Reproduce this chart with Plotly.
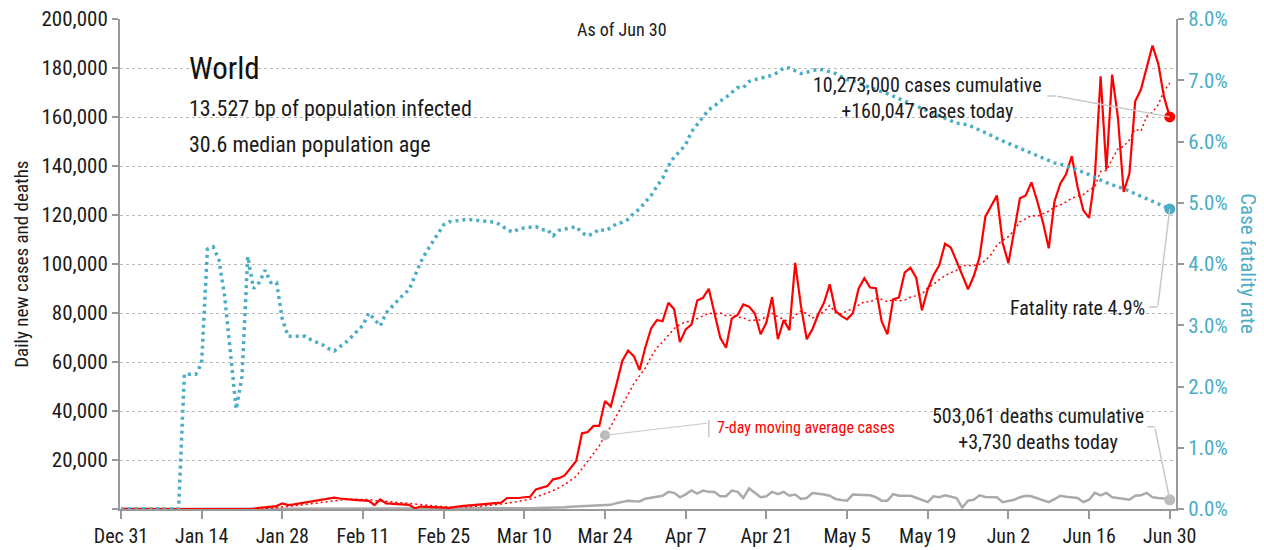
import pandas as pd
import plotly.graph_objects as go

# ---------------- data ----------------
dates = pd.date_range("2019-12-31", "2020-06-30", freq="D")

cases = [
    27, 0, 0, 17, 0, 15, 0, 0, 0, 0, 0, 0, 0, 1, 1, 0, 1, 4, 17,
    136, 19, 151, 140, 97,
    500, 700, 900, 1200, 2300, 1600, 1900, 2300, 2700, 3200,
    3300, 3700, 4200, 4600, 4300, 3900, 3800, 3600, 3500, 3300,
    1600, 3900, 2300, 2200, 2000, 1900, 1700, 300, 1000, 900,
    900, 800,
    600, 500, 1000, 1200, 1400, 1600, 1500, 1800, 1900, 2300, 2600,
    4500, 4400, 4500, 4800, 5000, 8000, 8800, 9400, 12100, 12600, 13700, 16900, 19600,
    30900, 31400, 33900, 33900, 44100, 41800, 51000, 60400, 64700, 62400, 56700, 66000,
    73700, 77100, 76700, 84200, 81500, 68100, 73300, 75300, 85100, 86200, 89900, 80000,
    69900, 65800, 77800, 79200, 83500, 82600, 79800, 71300, 76100, 86500, 69300, 77100, 73000, 100500,
    82900, 69300, 73400, 79500, 84200, 91700, 80800, 78800, 77400, 79900, 89900, 94200, 90400, 90100,
    76700, 71300, 85600, 86300, 96500, 98500, 94400, 81100, 89700, 95400, 99500, 108300, 106700, 101200,
    95100, 89700, 95100, 102900, 119300, 123700, 128000, 108700, 100300, 113500, 126800, 128000, 133300, 125700,
    116900, 106400, 125500, 132800, 136600, 144000, 131400, 121900, 118800, 135500, 176600, 138500, 177300, 160000,
    129400, 136900, 166400, 171200, 180400, 189200, 181800, 168200, 160047,
]

deaths = [
    0, 0, 0, 0, 0, 0, 0, 0, 0, 0, 0, 1, 0, 0, 0, 0, 1, 0, 0, 1,
    3, 6, 9, 8, 16, 15, 24, 26, 26, 38, 43, 46, 46, 57, 64, 66, 72, 73, 86, 89,
    97, 108, 97, 254, 121, 143, 142, 106, 98, 139, 116, 121, 150, 71, 64, 38, 99, 47, 52, 64,
    56, 67, 73, 86, 80, 101, 100, 229, 202, 282, 274, 321, 343, 349, 435, 406,
    600, 700, 900, 1000, 1100, 1300, 1400, 1500, 1700, 1700,
    2400, 2800, 3400, 3200, 3100, 4200, 4600, 5200, 5400, 7000,
    6600, 4800, 6000, 7600, 6300, 7500, 7000, 6900, 5200, 5200,
    7500, 7000, 4500, 8400, 6500, 4800, 5200, 7000, 6100, 7000,
    5400, 5900, 4100, 4500, 6500, 6300, 5900, 5400, 4100, 3700,
    3400, 5900, 5900, 5900, 5600, 4800, 3400, 3400, 6100, 5400,
    5400, 5400, 4600, 3800, 2800, 5200, 4800, 5600, 5000, 4500,
    600, 3400, 3800, 5600, 4900, 4900, 4800, 2800, 3400, 3800,
    4800, 5400, 5200, 4400, 3500, 2800, 4000, 5400, 5000, 4700,
    4500, 2800, 3800, 6600, 5600, 6600, 4800, 4500, 4200, 3800,
    5400, 5600, 6600, 4800, 4500, 4300, 3730,
]

cfr_pct = [
    0, 0, 0, 0, 0, 0, 0, 0, 0, 0, 0,
    2.2, 2.2, 2.2, 2.38, 4.24, 4.28, 4.07, 3.47, 2.6, 1.63,
    2.16, 4.12, 3.6, 3.7, 3.9, 3.7, 3.7, 3.1, 2.82, 2.82,
    2.82, 2.82, 2.76, 2.72, 2.68, 2.62, 2.58, 2.65, 2.72, 2.81,
    2.9, 3.0, 3.2, 3.1, 2.99, 3.2, 3.3, 3.41, 3.5, 3.58,
    3.8, 4.03, 4.2, 4.34, 4.5, 4.64, 4.69, 4.70, 4.72, 4.73,
    4.72, 4.71, 4.70, 4.70, 4.68, 4.63, 4.56, 4.52, 4.57, 4.59,
    4.6, 4.61, 4.56, 4.56, 4.46, 4.55, 4.57, 4.59, 4.61, 4.51,
    4.46, 4.50, 4.57, 4.54, 4.59, 4.66, 4.68, 4.73, 4.83, 4.90,
    5.0, 5.12, 5.27, 5.40, 5.6, 5.75, 5.84, 5.95, 6.16, 6.28,
    6.40, 6.52, 6.58, 6.66, 6.72, 6.80, 6.88, 6.88, 6.98, 7.01,
    7.03, 7.05, 7.08, 7.13, 7.2, 7.2, 7.16, 7.11, 7.13, 7.16,
    7.18, 7.17, 7.14, 7.11, 7.06, 7.01, 6.99, 6.96, 6.92, 6.88,
    6.85, 6.82, 6.78, 6.74, 6.70, 6.66, 6.62, 6.58, 6.54, 6.50,
    6.45, 6.42, 6.38, 6.33, 6.30, 6.29, 6.27, 6.23, 6.19, 6.14,
    6.10, 6.05, 6.01, 5.96, 5.92, 5.88, 5.84, 5.80, 5.76, 5.72,
    5.68, 5.65, 5.63, 5.60, 5.57, 5.54, 5.50, 5.46, 5.41, 5.37,
    5.33, 5.29, 5.26, 5.23, 5.19, 5.15, 5.11, 5.06, 5.02, 4.98, 4.94, 4.90,
]

xtick_vals = pd.date_range("2019-12-31", "2020-06-30", freq="14D")
xtick_text = ["Dec 31", "Jan 14", "Jan 28", "Feb 11", "Feb 25", "Mar 10", "Mar 24",
              "Apr 7", "Apr 21", "May 5", "May 19", "Jun 2", "Jun 16", "Jun 30"]
ytick_vals = [0, 20000, 40000, 60000, 80000, 100000, 120000, 140000, 160000, 180000, 200000]
ytick_text = ["", "20,000", "40,000", "60,000", "80,000", "100,000", "120,000",
              "140,000", "160,000", "180,000", "200,000"]
y2tick_vals = [0, 1, 2, 3, 4, 5, 6, 7, 8]
y2tick_text = ["0.0%", "1.0%", "2.0%", "3.0%", "4.0%", "5.0%", "6.0%", "7.0%", "8.0%"]

# 7-day moving average of the daily cases (the chart's own derived series)
ma7 = pd.Series(cases).rolling(7, min_periods=1).mean().tolist()

FONT = "Roboto Condensed, Liberation Sans Narrow, Roboto, sans-serif"
RED = "#ff0000"
TEAL = "#4bacc6"
GRAY = "#aaaaaa"
AXIS = "#999999"
CONN = "#c8c8c8"
INK = "#1a1a1a"

fig = go.Figure()

fig.add_trace(go.Scatter(x=dates, y=cfr_pct, yaxis="y2", mode="lines",
                         line=dict(color=TEAL, width=3.5, dash="3px,4px"), hoverinfo="skip"))
fig.add_trace(go.Scatter(x=dates, y=deaths, mode="lines",
                         line=dict(color=GRAY, width=2.5), hoverinfo="skip"))
fig.add_trace(go.Scatter(x=dates, y=ma7, mode="lines",
                         line=dict(color=RED, width=1.5, dash="2px,3px"), hoverinfo="skip"))
fig.add_trace(go.Scatter(x=dates, y=cases, mode="lines",
                         line=dict(color=RED, width=2.2), hoverinfo="skip"))

# end markers
fig.add_trace(go.Scatter(x=[dates[-1]], y=[cases[-1]], mode="markers",
                         marker=dict(color=RED, size=11), hoverinfo="skip"))
fig.add_trace(go.Scatter(x=[dates[-1]], y=[cfr_pct[-1]], yaxis="y2", mode="markers",
                         marker=dict(color=TEAL, size=11), hoverinfo="skip"))
fig.add_trace(go.Scatter(x=[dates[-1]], y=[deaths[-1]], mode="markers",
                         marker=dict(color="#bbbbbb", size=11), hoverinfo="skip"))
i_leg = list(dates).index(pd.Timestamp("2020-03-24"))
fig.add_trace(go.Scatter(x=[dates[i_leg]], y=[ma7[i_leg]], mode="markers",
                         marker=dict(color="#bbbbbb", size=10), hoverinfo="skip"))

ann = []
def txt(text, x, y, size=20, color=INK, xanchor="left", align="left"):
    ann.append(dict(text=text, x=x, y=y, xref="paper", yref="paper", showarrow=False,
                    xanchor=xanchor, yanchor="middle", align=align,
                    font=dict(family=FONT, size=size, color=color)))

txt("As of Jun 30", 0.475, 0.978, size=18, xanchor="center")
txt("World", 0.063, 0.899, size=31, color="#111111")
txt("13.527 bp of population infected", 0.063, 0.818, size=22)
txt("30.6 median population age", 0.063, 0.743, size=22)
txt("10,273,000 cases cumulative<br>+160,047 cases today", 0.765, 0.839, xanchor="center", align="center")
txt("Fatality rate 4.9%", 0.9725, 0.41, xanchor="right", align="right")
txt("503,061 deaths cumulative<br>+3,730 deaths today", 0.869, 0.163, xanchor="center", align="center")
txt("7-day moving average cases", 0.5634, 0.167, size=16, color=RED)
txt("Daily new cases and deaths", -0.094, 0.5, size=19)
ann[-1]["textangle"] = -90
ann[-1]["xanchor"] = "center"
ann.append(dict(text="Case fatality rate", x=1.068, y=0.5, xref="paper", yref="paper",
                showarrow=False, textangle=90, xanchor="center", yanchor="middle",
                font=dict(family=FONT, size=21, color=TEAL)))

def conn(x, y, ax, ay, yref="y", xshift=0, yshift=0):
    ann.append(dict(text="", x=x, y=y, xref="x", yref=yref, ax=ax, ay=ay,
                    showarrow=True, arrowhead=0, arrowwidth=1.5, arrowcolor=CONN,
                    standoff=0, startstandoff=0, xshift=xshift, yshift=yshift))

# cases connector (elbow)
conn(dates[-1], cases[-1], -114, -21)
conn(dates[-1], cases[-1], -10, 0, xshift=-114, yshift=21)
# fatality connector
conn(dates[-1], cfr_pct[-1], -12, 98, yref="y2")
conn(dates[-1], cfr_pct[-1], -10, 0, yref="y2", xshift=-12, yshift=-98)
# deaths connector
conn(dates[-1], deaths[-1], -15, -73)
conn(dates[-1], deaths[-1], -9, 0, xshift=-15, yshift=73)
# legend connector for the moving average: from the dot to the label bar
leg_x = "2020-04-11"
ann.append(dict(text="", x=dates[i_leg], y=ma7[i_leg], xref="x", yref="y",
                axref="x", ayref="y", ax=leg_x, ay=35100,
                showarrow=True, arrowhead=0, arrowwidth=1, arrowcolor=CONN,
                standoff=0, startstandoff=0))

shapes = [dict(type="line", xref="x", yref="y", x0=leg_x, x1=leg_x, y0=29400, y1=36300,
               line=dict(color=CONN, width=1.5))]

fig.update_layout(
    width=1264, height=550,
    margin=dict(l=112, r=96, t=11, b=49),
    paper_bgcolor="white", plot_bgcolor="white",
    showlegend=False,
    font=dict(family=FONT, size=18, color=INK),
    annotations=ann,
    shapes=shapes,
    xaxis=dict(
        type="date", range=["2019-12-30 20:00", "2020-07-01 02:00"],
        tickvals=xtick_vals, ticktext=xtick_text, automargin=False,
        ticklabeloverflow="allow",
        showline=True, linecolor=AXIS, linewidth=2,
        ticks="outside", ticklen=8, tickcolor=AXIS, tickwidth=1.5,
        showgrid=False, zeroline=False,
        tickfont=dict(family=FONT, size=20, color=INK),
    ),
    yaxis=dict(
        range=[0, 200000], tickvals=ytick_vals, ticktext=ytick_text, automargin=False,
        ticklabeloverflow="allow",
        showline=True, linecolor=AXIS, linewidth=2,
        ticks="outside", ticklen=6, tickcolor=AXIS, tickwidth=1.5,
        showgrid=True, gridcolor="#bbbbbb", griddash="dot", gridwidth=1,
        zeroline=False,
        tickfont=dict(family=FONT, size=21, color=INK),
    ),
    yaxis2=dict(
        overlaying="y", side="right", range=[0, 8],
        tickvals=y2tick_vals, ticktext=y2tick_text, automargin=False,
        ticklabeloverflow="allow",
        showline=True, linecolor=AXIS, linewidth=2,
        ticks="outside", ticklen=6, tickcolor=AXIS, tickwidth=1.5,
        showgrid=False, zeroline=False,
        tickfont=dict(family=FONT, size=21, color=TEAL),
    ),
)

fig.write_html("out.html")
